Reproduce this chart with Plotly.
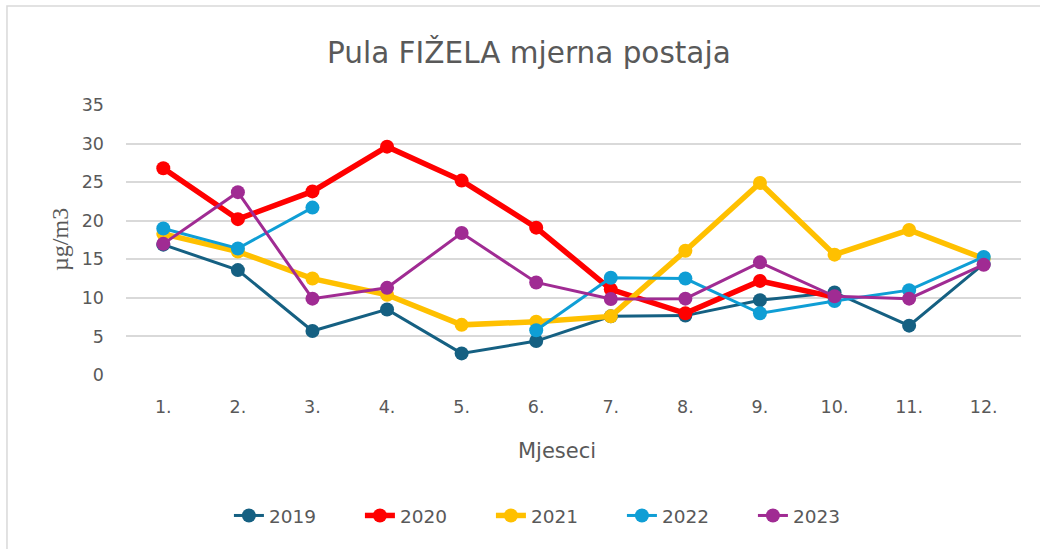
import plotly.graph_objects as go

# Monthly mean concentrations (µg/m3) at the Pula FIŽELA station
months = ["1.", "2.", "3.", "4.", "5.", "6.", "7.", "8.", "9.", "10.", "11.", "12."]
y2019 = [16.9, 13.6, 5.7, 8.5, 2.8, 4.4, 7.6, 7.7, 9.7, 10.7, 6.4, 14.4]
y2020 = [26.8, 20.2, 23.8, 29.6, 25.2, 19.1, 11.1, 8.0, 12.2, 10.1, None, None]
y2021 = [18.3, 16.0, 12.5, 10.4, 6.5, 6.9, 7.6, 16.1, 24.9, 15.6, 18.8, 15.1]
y2022 = [19.0, 16.4, 21.7, None, None, 5.8, 12.6, 12.5, 8.0, 9.6, 11.0, 15.3]
y2023 = [17.0, 23.7, 9.9, 11.3, 18.4, 12.0, 9.85, 9.9, 14.6, 10.2, 9.9, 14.3]

series = [
    ("2019", y2019, "#156082", 3),
    ("2020", y2020, "#FF0000", 5.5),
    ("2021", y2021, "#FFC000", 5.5),
    ("2022", y2022, "#0F9ED5", 3),
    ("2023", y2023, "#A02B93", 3),
]

fig = go.Figure()
for name, vals, color, lw in series:
    fig.add_trace(go.Scatter(
        x=months, y=vals, name=name, mode="lines+markers",
        line=dict(color=color, width=lw),
        marker=dict(color=color, size=14, line=dict(width=0)),
        connectgaps=False, cliponaxis=False,
    ))

grey = "#595959"
sans = "DejaVu Sans"
fig.update_layout(
    width=1040, height=549,
    margin=dict(l=126, r=19, t=105, b=174),
    paper_bgcolor="white", plot_bgcolor="white",
    showlegend=True,
    legend=dict(
        orientation="h", x=0.115, xanchor="left", y=-0.522, yanchor="middle",
        font=dict(family=sans, size=18.5, color=grey),
        entrywidth=86, itemsizing="trace",
    ),
    xaxis=dict(
        type="category", categoryorder="array", categoryarray=months,
        range=[-0.5, 11.5],
        showgrid=False, showline=False, zeroline=False, ticks="",
        tickfont=dict(family=sans, size=17.5, color=grey),
        ticklabelstandoff=19,
    ),
    yaxis=dict(
        range=[0, 35], dtick=5, showgrid=True, gridcolor="#D9D9D9", gridwidth=1.5,
        zeroline=False, showline=False, ticks="",
        tickfont=dict(family=sans, size=17.5, color=grey),
        ticklabelstandoff=21,
    ),
    annotations=[
        dict(text="Pula FIŽELA mjerna postaja", xref="paper", yref="paper",
             x=0.450, y=1.195, xanchor="center", yanchor="middle", showarrow=False,
             font=dict(family=sans, size=29.5, color=grey)),
        dict(text="Mjeseci", xref="paper", yref="paper",
             x=0.4816, y=-0.281, xanchor="center", yanchor="middle", showarrow=False,
             font=dict(family=sans, size=21, color=grey)),
        dict(text="µg/m3", xref="paper", yref="paper", textangle=-90,
             x=-0.0737, y=0.5, xanchor="center", yanchor="middle", showarrow=False,
             font=dict(family="Liberation Serif", size=24, color=grey)),
    ],
    shapes=[
        dict(type="rect", xref="paper", yref="paper",
             x0=-0.133, x1=1.1, y0=-0.8, y1=1.367,
             line=dict(color="#D9D9D9", width=1.5), fillcolor="rgba(0,0,0,0)", layer="below"),
    ],
)

fig.write_html("out.html")
